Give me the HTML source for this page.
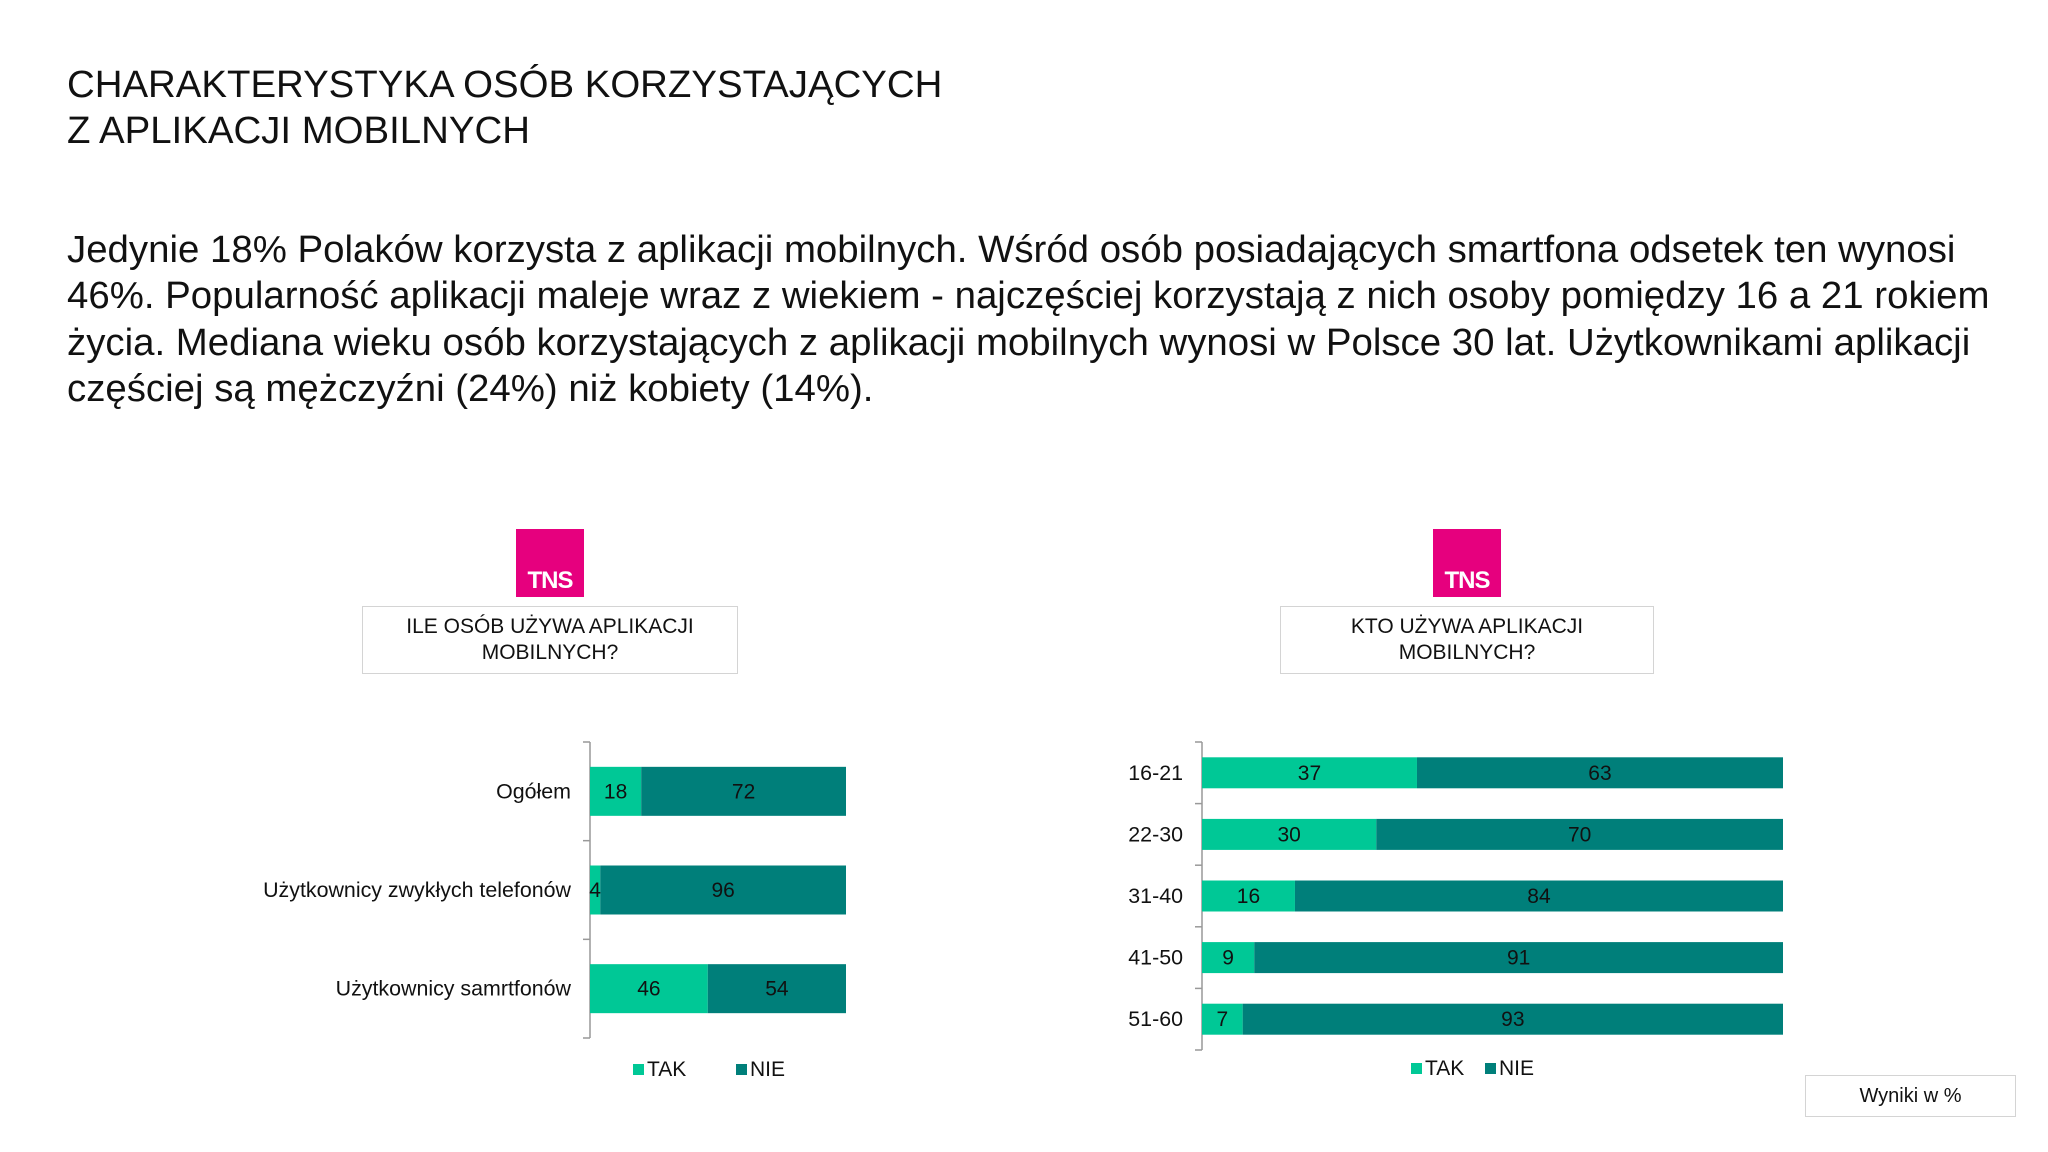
<!DOCTYPE html>
<html><head><meta charset="utf-8"><style>
body{margin:0;width:2048px;height:1152px;background:#fff;font-family:"Liberation Sans",sans-serif;color:#111;position:relative;overflow:hidden}
.abs{position:absolute}
.tns{background:#e6007e;color:#fff;font-weight:bold;font-size:24px;display:flex;align-items:flex-end;justify-content:center;padding-bottom:2px;box-sizing:border-box;letter-spacing:-1px}
.qbox{border:1.5px solid #d4d4d4;box-sizing:border-box;display:flex;align-items:center;justify-content:center;text-align:center;font-size:21px;line-height:26px}
</style></head><body>
<div class="abs" style="left:67px;top:62px;font-size:38.4px;line-height:46px">CHARAKTERYSTYKA OSÓB KORZYSTAJĄCYCH<br>Z APLIKACJI MOBILNYCH</div>
<div class="abs" style="left:67px;top:227px;width:1975px;font-size:38.4px;line-height:46.3px">Jedynie 18% Polaków korzysta z aplikacji mobilnych. Wśród osób posiadających smartfona odsetek ten wynosi 46%. Popularność aplikacji maleje wraz z wiekiem - najczęściej korzystają z nich osoby pomiędzy 16 a 21 rokiem życia. Mediana wieku osób korzystających z aplikacji mobilnych wynosi w Polsce 30 lat. Użytkownikami aplikacji częściej są mężczyźni (24%) niż kobiety (14%).</div>
<div class="abs tns" style="left:516px;top:529px;width:68px;height:68px">TNS</div>
<div class="abs qbox" style="left:362px;top:606px;width:376px;height:68px">ILE OSÓB UŻYWA APLIKACJI<br>MOBILNYCH?</div>
<div class="abs tns" style="left:1433px;top:529px;width:68px;height:68px">TNS</div>
<div class="abs qbox" style="left:1280px;top:606px;width:374px;height:68px">KTO UŻYWA APLIKACJI<br>MOBILNYCH?</div>
<div class="abs qbox" style="left:1805px;top:1075px;width:211px;height:42px;font-size:20px">Wyniki w %</div>
<svg class="abs" style="left:0;top:0" width="2048" height="1152" id="svg"></svg>
<script>
const leftCats=["Ogółem","Użytkownicy zwykłych telefonów","Użytkownicy samrtfonów"];
const leftTak=[18,4,46];
const leftNie=[72,96,54];
const rightCats=["16-21","22-30","31-40","41-50","51-60"];
const rightTak=[37,30,16,9,7];
const rightNie=[63,70,84,91,93];
const TAK="#00c896",NIE="#007f7a";
const svg=document.getElementById('svg');
const NS="http://www.w3.org/2000/svg";
function mk(t,a){const e=document.createElementNS(NS,t);for(const k in a)e.setAttribute(k,a[k]);svg.appendChild(e);return e;}
function chart(o){
  const n=o.cats.length,step=(o.y1-o.y0)/n;
  const ax=mk('line',{x1:o.x0,x2:o.x0,y1:o.y0,y2:o.y1,stroke:'#999','stroke-width':1.5});
  
  
  for(let i=0;i<=n;i++){const t=mk('line',{x1:o.x0-7,x2:o.x0,y1:o.y0+i*step,y2:o.y0+i*step,stroke:'#999','stroke-width':1.5});
    
    }
  o.cats.forEach((c,i)=>{
    const tot=o.tak[i]+o.nie[i];
    const sx=v=>(o.x1-o.x0)*v/tot;
    const cy=o.y0+(i+0.5)*step, h=o.bh;
    const w1=sx(o.tak[i]),w2=sx(o.nie[i]);
    const r1=mk('rect',{x:o.x0,y:cy-h/2,width:w1,height:h,fill:TAK});
    
    
    const r2=mk('rect',{x:o.x0+w1,y:cy-h/2,width:w2,height:h,fill:NIE});
    
    
    const t1=mk('text',{x:o.x0+w1/2,y:cy+7,'text-anchor':'middle','font-size':21,fill:'#111'});t1.textContent=o.tak[i];
    
    
    const t2=mk('text',{x:o.x0+w1+w2/2,y:cy+7,'text-anchor':'middle','font-size':21,fill:'#111'});t2.textContent=o.nie[i];
    
    
    const l=mk('text',{x:o.lx,y:cy+7,'text-anchor':'end','font-size':21.4,fill:'#111'});l.textContent=c;
    
    
  });
  [[o.lg1,TAK,'TAK'],[o.lg2,NIE,'NIE']].forEach(([x,col,lab])=>{
    const r=mk('rect',{x:x,y:o.ly-12,width:11,height:11,fill:col});
    
    
    const t=mk('text',{x:x+14,y:o.ly,'font-size':21,fill:'#111'});t.textContent=lab;
    
    
  });
}
chart({cats:leftCats,tak:leftTak,nie:leftNie,x0:590,x1:846,y0:742,y1:1038,bh:49,lx:571,ly:1076,lg1:633,lg2:736});
chart({cats:rightCats,tak:rightTak,nie:rightNie,x0:1202,x1:1783,y0:742,y1:1050,bh:31,lx:1183,ly:1075,lg1:1411,lg2:1485});
</script>
</body></html>
